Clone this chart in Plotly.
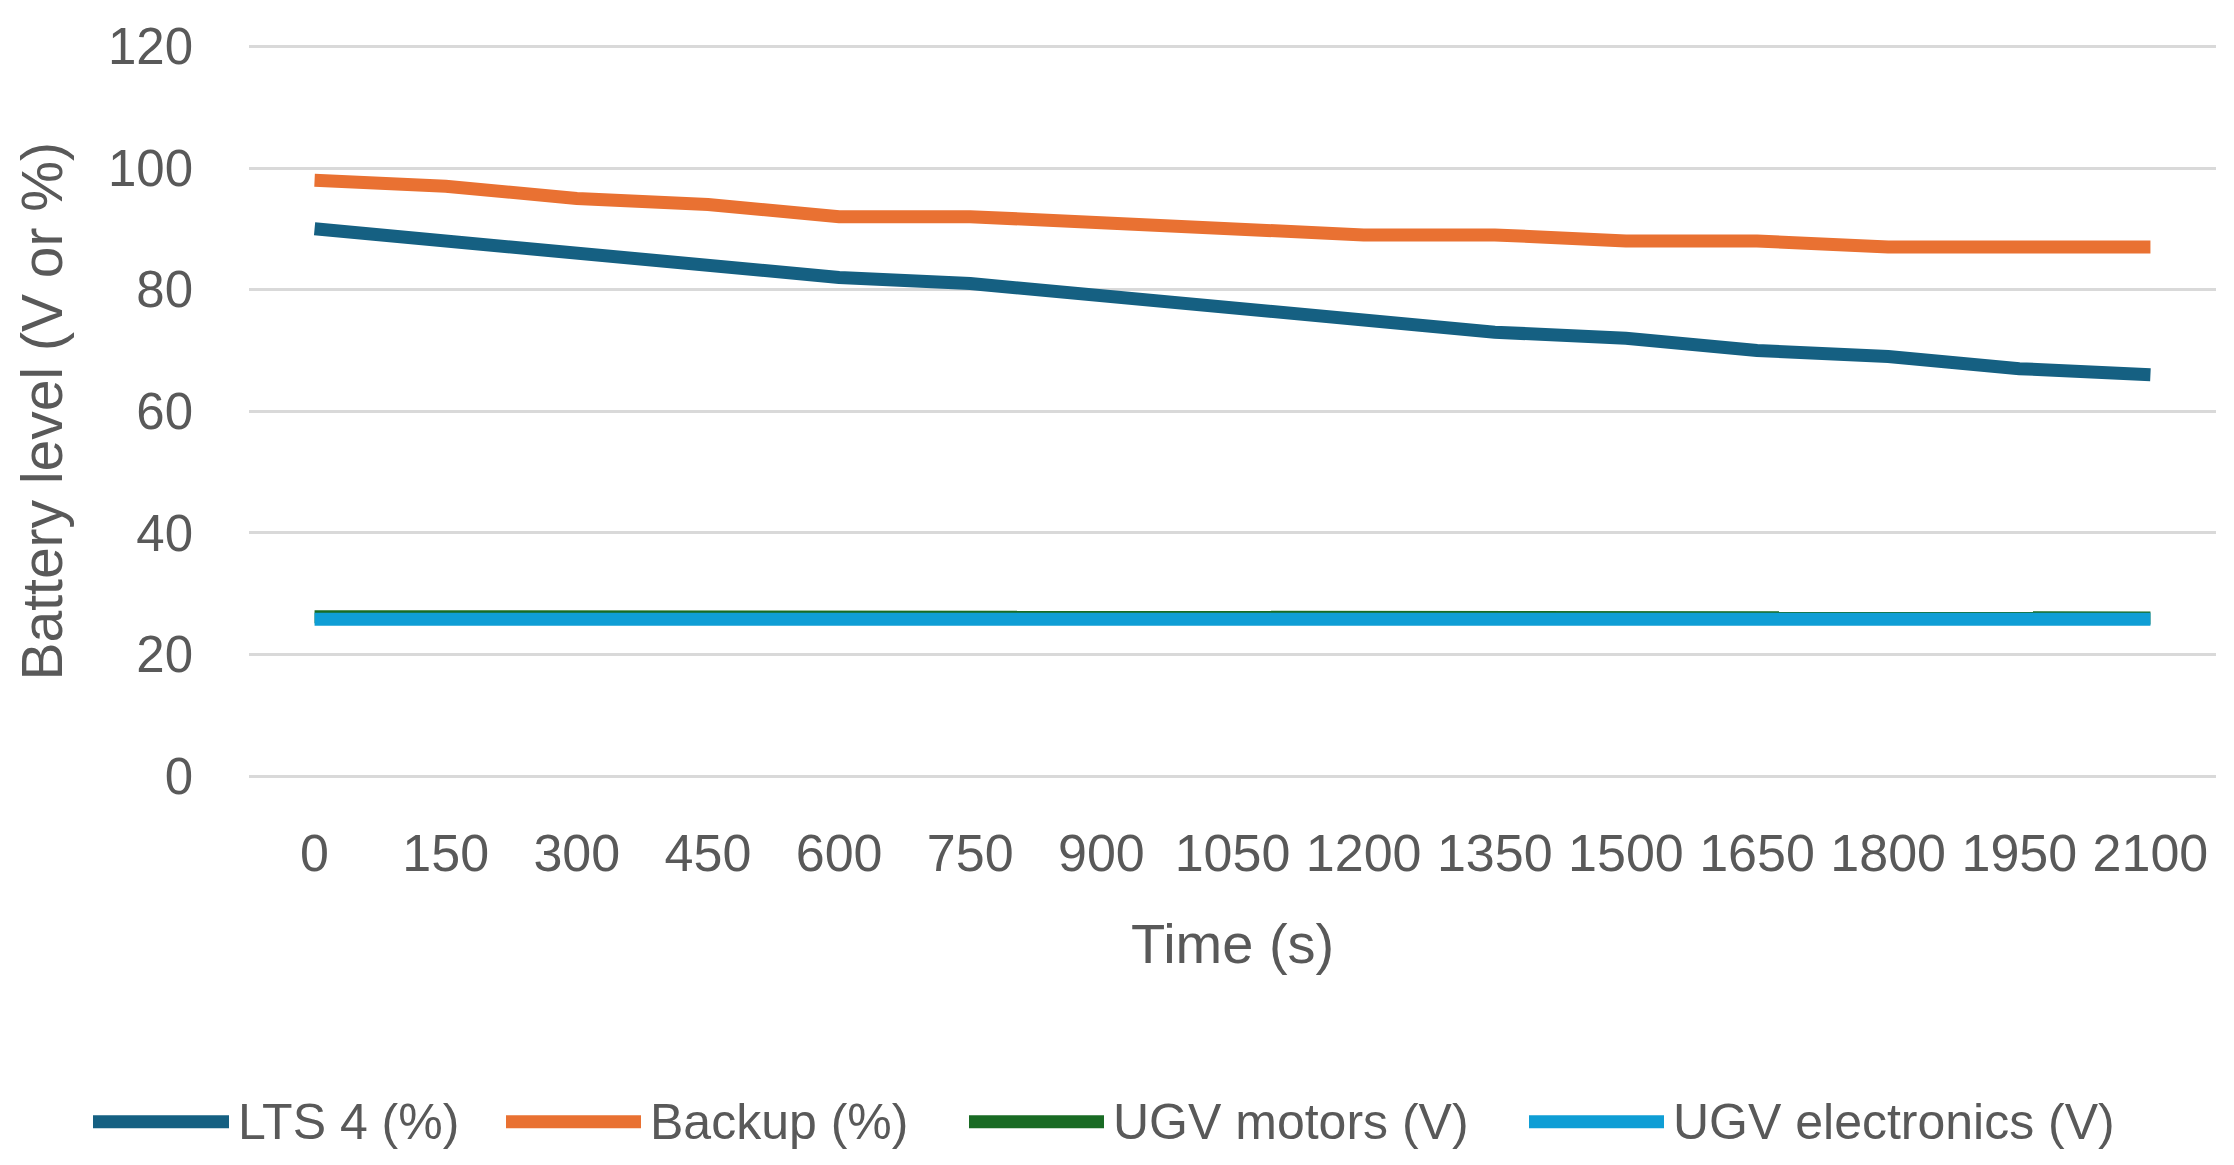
import plotly.graph_objects as go

time_s = ["0", "150", "300", "450", "600", "750", "900", "1050", "1200",
          "1350", "1500", "1650", "1800", "1950", "2100"]
lts4 = [90, 88, 86, 84, 82, 81, 79, 77, 75, 73, 72, 70, 69, 67, 66]
backup = [98, 97, 95, 94, 92, 92, 91, 90, 89, 89, 88, 88, 87, 87, 87]
ugv_motors = [26.2, 26.2, 26.0, 26.0, 26.0, 26.0, 26.0, 26.0, 26.2, 26.0, 26.0, 26.0, 26.2, 26.0, 26.0]
ugv_electronics = [25.8, 25.8, 25.6, 25.8, 25.8, 25.8, 25.8, 25.6, 25.8, 25.8, 25.8, 25.6, 25.8, 25.6, 25.8]

series_names = ["LTS 4 (%)", "Backup (%)", "UGV motors (V)", "UGV electronics (V)"]
series_values = [lts4, backup, ugv_motors, ugv_electronics]
series_colors = ["#156082", "#E97132", "#196B24", "#0F9ED5"]

y_ticks = [0, 20, 40, 60, 80, 100, 120]

FONT = "Liberation Sans, Arial, sans-serif"
TXT = "#595959"
GRID = "#D9D9D9"
LW = 13

W, H = 2218, 1149
ML, MR, MT, MB = 241, 10, 27, 381
PW = W - ML - MR
PH = H - MT - MB

fig = go.Figure()
for name, vals, col in zip(series_names, series_values, series_colors):
    fig.add_trace(go.Scatter(x=time_s, y=vals, name=name, mode="lines",
                             line=dict(color=col, width=LW), showlegend=False))

def px_x(p):
    return (p - ML) / PW

def px_y(p):
    return (H - MB - p) / PH

# custom legend (long line samples like the original)
leg_y = 1118
leg_line_x = [(85, 221), (498, 633), (961, 1096), (1521, 1656)]
leg_text_x = [228, 640, 1103, 1663]
shapes = []
annotations = []
for (x0, x1), tx, name, col in zip(leg_line_x, leg_text_x, series_names, series_colors):
    shapes.append(dict(type="line", xref="paper", yref="paper",
                       x0=px_x(x0), x1=px_x(x1), y0=px_y(leg_y), y1=px_y(leg_y),
                       line=dict(color=col, width=LW)))
    annotations.append(dict(text=name, xref="paper", yref="paper", x=px_x(tx), y=px_y(leg_y),
                            xanchor="left", yanchor="middle", showarrow=False,
                            font=dict(family=FONT, size=50, color=TXT)))

annotations.append(dict(text="Time (s)", xref="paper", yref="paper", x=0.5, y=px_y(938),
                        xanchor="center", yanchor="middle", showarrow=False,
                        font=dict(family=FONT, size=56, color=TXT)))
annotations.append(dict(text="Battery level (V or %)", xref="paper", yref="paper",
                        x=px_x(34), y=px_y(399), textangle=-90,
                        xanchor="center", yanchor="middle", showarrow=False,
                        font=dict(family=FONT, size=57, color=TXT)))

fig.update_layout(
    width=W, height=H,
    margin=dict(l=ML, r=MR, t=MT, b=MB, pad=0),
    paper_bgcolor="white", plot_bgcolor="white",
    font=dict(family=FONT, color=TXT),
    shapes=shapes, annotations=annotations,
    showlegend=False,
)
fig.update_xaxes(type="category", categoryorder="array", categoryarray=time_s,
                 range=[-0.5, len(time_s) - 0.5], showgrid=False, showline=False,
                 zeroline=False, ticks="", tickfont=dict(family=FONT, size=52, color=TXT),
                 ticklabelstandoff=42)
fig.update_yaxes(range=[0, 120.4], tickvals=y_ticks, showgrid=True, gridcolor=GRID, gridwidth=3,
                 zeroline=True, zerolinecolor=GRID, zerolinewidth=3, showline=False, ticks="",
                 tickfont=dict(family=FONT, size=51, color=TXT), ticklabelstandoff=55)

fig.write_html("out.html")
